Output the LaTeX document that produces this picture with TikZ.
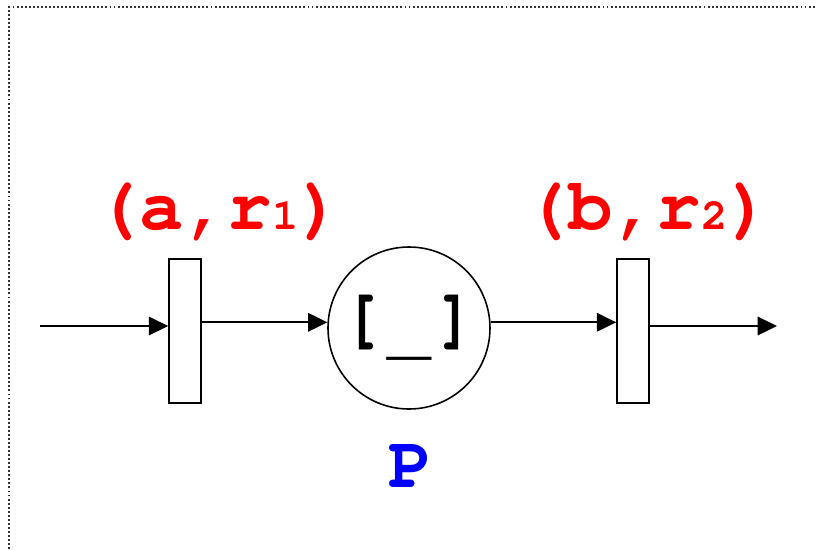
\documentclass[tikz,border=0pt]{standalone}
\usepackage[T1]{fontenc}
\usepackage{courier}
\usetikzlibrary{arrows.meta}
\newcommand{\sm}[1]{{\fontsize{25}{25}\selectfont #1}}
\tikzset{
  trans/.style={draw, line width=0.9pt, minimum width=32*0.02cm, minimum height=144*0.02cm, inner sep=0pt},
  place/.style={draw, circle, line width=0.9pt, minimum size=162*0.02cm, inner sep=0pt,
    font=\ttfamily\bfseries\fontsize{36}{36}\selectfont},
  arc/.style={line width=1.1pt, -{Triangle[length=11pt, width=10.5pt]}},
  lab/.style={anchor=base, text=red, inner sep=0pt, font=\ttfamily\bfseries\fontsize{42}{42}\selectfont},
  pname/.style={anchor=base, text=blue, inner sep=0pt, font=\ttfamily\bfseries\fontsize{42}{42}\selectfont}
}
\begin{document}
\begin{tikzpicture}[x=0.02cm, y=-0.02cm]
  \useasboundingbox (0,0) rectangle (816,549);
  % gepunkteter rahmen
  \draw[black!80, line width=1.1pt, dash pattern=on 1.1pt off 1.2pt] (9,549) -- (9,7) -- (816,7);
  % transitionen und stelle
  \node[trans] (t1) at (185,331) {};
  \node[place] (p) at (409,328)
    {\raisebox{5pt}{\scalebox{1}[1.12]{[}\kern3pt\raisebox{-7pt}{\scalebox{1.15}[1]{\_}}\kern3pt\scalebox{1}[1.12]{]}}};
  \node[trans] (t2) at (633,331) {};
  \coordinate (in) at (40,326);
  \coordinate (out) at (777,326);
  % kanten
  \draw[arc] (in) -- (in -| t1.west);
  \draw[arc] (t1.east |- p.176) -- (p.176);
  \draw[arc] (p.4) -- (p.4 -| t2.west);
  \draw[arc] (t2.east |- out) -- (out);
  % beschriftungen
  \node[lab] (l1) at (219,229) {(a,r\sm{1})};
  \node[lab] (l2) at (648,229) {(b,r\sm{2})};
  \node[pname] (pl) at (411,487) {P};
\end{tikzpicture}
\end{document}
